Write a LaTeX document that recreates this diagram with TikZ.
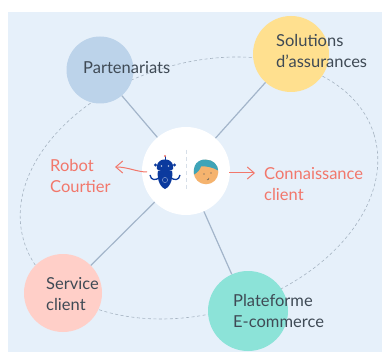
\documentclass[tikz,border=0pt]{standalone}
\usepackage{fontspec}
\setmainfont{Lato}
\usetikzlibrary{arrows.meta}
\definecolor{panel}{HTML}{E6F0FA}
\definecolor{linkc}{HTML}{A3B5CA}
\definecolor{ringc}{HTML}{A6B4C2}
\definecolor{inkc}{HTML}{3F4A55}
\definecolor{redc}{HTML}{F2776B}
\definecolor{robotc}{HTML}{0B3A9E}
\definecolor{partc}{HTML}{BCD3EA}
\definecolor{solc}{HTML}{FFE08F}
\definecolor{servc}{HTML}{FFCFC8}
\definecolor{platc}{HTML}{8CE3D8}
\definecolor{skinc}{HTML}{F5B36E}
\definecolor{hairc}{HTML}{3EA4B8}
\tikzset{
  x=1pt,y=-1pt,
  hub/.style={circle,draw=none,fill=#1,inner sep=0pt},
  lab/.style={align=left,anchor=west,inner sep=0pt,text=inkc,font=\fontsize{16.5}{21}\selectfont},
  redlab/.style={lab,text=redc},
  link/.style={draw=linkc,line width=1.2pt},
  ring/.style={draw=ringc,line width=.6pt,dash pattern=on 3pt off 2.5pt},
  redarrow/.style={draw=redc,line width=1pt,-{Straight Barb[length=7pt,width=12pt]}}
}
\begin{document}
\begin{tikzpicture}
\useasboundingbox (0,0) rectangle (382,352);
\fill[white] (0,0) rectangle (382,352);
\fill[panel] (8,12) rectangle (382,352);
\draw[ring,rotate around={17:(199,188)}] (199,188) ellipse [x radius=183,y radius=125];
\node[hub=white,minimum size=88pt] (center) at (186,171) {};
\node[hub=partc,minimum size=67pt] (part) at (100,70) {};
\node[hub=solc,minimum size=76pt] (sol) at (291,54) {};
\node[hub=servc,minimum size=78pt] (serv) at (63,293) {};
\node[hub=platc,minimum size=80pt] (plat) at (248,311) {};
\draw[link] (part) -- (center);
\draw[link] (sol) -- (center);
\draw[link] (serv) -- (center);
\draw[link] (plat) -- (center);
\node[lab] (tpart) at (83,68) {Partenariats};
\node[lab] (tsol) at (276,51) {Solutions\\d’assurances};
\node[lab] (tserv) at (46,294) {Service\\client};
\node[lab] (tplat) at (233,311) {Plateforme\\E-commerce};
\node[redlab] (trob) at (50,176) {Robot\\Courtier};
\node[redlab] (tcon) at (264,184) {Connaissance\\client};
\coordinate (robtip) at (115,167);
\coordinate (robtail) at (147,172);
\coordinate (contail) at (229,173);
\coordinate (contip) at (255,173);
\draw[redarrow] (robtail) .. controls (137,172) and (128,167) .. (robtip);
\draw[redarrow] (contail) -- (contip);
% divider
\draw[draw=panel!85!gray,line width=.9pt,dash pattern=on 4pt off 3pt] (186,150) -- (186,191);
% robot
\draw[robotc,line width=1pt] (165,169) -- (165,156);
\fill[redc] (165,156) circle (1.2);
\draw[robotc,line width=1.3pt] (150,175) .. controls (151,181) and (156,180) .. (159,178);
\draw[robotc,line width=1.3pt] (180,175) .. controls (179,181) and (174,180) .. (171,178);
\fill[robotc] (165,189) .. controls (158,186) and (157,175) .. (158,171) -- (172,171) .. controls (173,175) and (172,186) .. (165,189) -- cycle;
\fill[robotc] (165,159.5) .. controls (172,159.5) and (174,165) .. (173,169) .. controls (171,172) and (159,172) .. (157,169) .. controls (156,165) and (158,159.5) .. (165,159.5) -- cycle;
\fill[robotc] (155.5,165) circle (1.6);
\fill[robotc] (174.5,165) circle (1.6);
\fill[white!70!robotc] (161.5,166) circle (.9);
\fill[white!70!robotc] (168.5,166) circle (.9);
\draw[white!60!robotc,line width=.4pt] (165,180) circle (2.6);
% face
\fill[skinc] (206,172) circle (12.3);
\fill[hairc] (194,174.5) .. controls (192,160) and (204,159) .. (206,159.7) .. controls (213,159.5) and (218,165) .. (218.2,170.5) .. controls (212,167) and (206,166) .. (201,166.5) .. controls (200,170) and (197,173) .. (194,174.5) -- cycle;
\fill[inkc] (204,174) circle (.6);
\fill[inkc] (211,173) circle (.6);
\draw[inkc,line width=.5pt] (207,180) .. controls (208,180) and (209,179) .. (209,178);
\end{tikzpicture}
\end{document}
